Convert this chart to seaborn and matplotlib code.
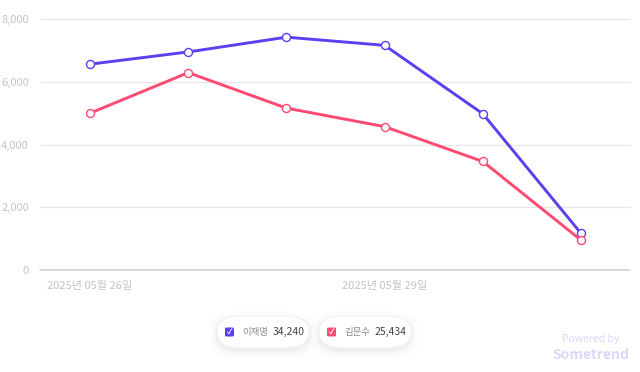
import pandas as pd
import seaborn as sns
import matplotlib.pyplot as plt
from matplotlib.patches import FancyBboxPatch

# data
dates = ["2025년 05월 26일", "2025년 05월 27일", "2025년 05월 28일",
         "2025년 05월 29일", "2025년 05월 30일", "2025년 05월 31일"]
lee = [6560, 6950, 7420, 7160, 4980, 1170]
kim = [5000, 6290, 5160, 4570, 3460, 954]
names = ["이재명", "김문수"]
totals = ["34,240", "25,434"]
colors = ["#5b3ff0", "#ff4b72"]
yticks = [0, 2000, 4000, 6000, 8000]

df = pd.DataFrame({
    "x": list(range(len(dates))) * 2,
    "value": lee + kim,
    "name": [names[0]] * len(lee) + [names[1]] * len(kim),
})

sns.set_style("white")
plt.rcParams["font.family"] = ["Noto Sans CJK KR", "DejaVu Sans"]

fig = plt.figure(figsize=(6.4, 3.72), dpi=100)
ax = fig.add_axes([0.0625, 0.274, 0.922, 0.675])

sns.lineplot(data=df, x="x", y="value", hue="name", palette=colors,
             marker="o", markersize=5.8, markerfacecolor="white",
             markeredgewidth=1.0, linewidth=2.1, legend=False, ax=ax)
# marker edges in line colour
for line, c in zip(ax.get_lines(), colors):
    line.set_markeredgecolor(c)

ax.set_xlim(-0.51, 5.5)
ax.set_ylim(0, 8000)
ax.set_yticks(yticks)
ax.set_yticklabels([f"{v:,}" for v in yticks])
ax.set_xticks([0, 3])
ax.set_xticklabels([dates[0], dates[3]])
ax.tick_params(axis="both", length=0, labelsize=8, labelcolor="#c4c4c4")
ax.tick_params(axis="x", pad=8)
ax.tick_params(axis="y", pad=8)
ax.set_xlabel("")
ax.set_ylabel("")
for y in yticks[1:]:
    ax.axhline(y, color="#e6e6e6", linewidth=0.9, zorder=0, clip_on=False)
ax.axhline(0, color="#cccccc", linewidth=1.1, zorder=0, clip_on=False)
for s in ax.spines.values():
    s.set_visible(False)

# legend pills
W, H = 640, 372
pills = [(217, 316, 92, 32), (319, 316, 92, 32)]
for (px, py, pw, ph), name, tot, c in zip(pills, names, totals, colors):
    for k, a in [(8, 0.008), (5, 0.012), (3, 0.018), (1, 0.025)]:
        sh = FancyBboxPatch(((px - k) / W, 1 - (py + ph + k + 3) / H),
                            (pw + 2 * k) / W, (ph + 2 * k) / H,
                            boxstyle="round,pad=0,rounding_size=0.045",
                            transform=fig.transFigure, facecolor="#000000",
                            alpha=a, edgecolor="none")
        fig.add_artist(sh)
    pill = FancyBboxPatch((px / W, 1 - (py + ph) / H), pw / W, ph / H,
                          boxstyle="round,pad=0,rounding_size=0.04",
                          transform=fig.transFigure, facecolor="white",
                          edgecolor="#f0f0f0", linewidth=0.8)
    fig.add_artist(pill)
    cy = 1 - (py + ph / 2) / H
    box = FancyBboxPatch(((px + 8) / W, cy - 4.5 / H), 9 / W, 9 / H,
                         boxstyle="round,pad=0,rounding_size=0.003",
                         transform=fig.transFigure, facecolor=c, edgecolor="none")
    fig.add_artist(box)
    fig.text((px + 12.5) / W, cy, "✓", color="white", fontsize=5.5,
             ha="center", va="center", fontweight="bold")
    fig.text((px + 25) / W, cy, name, color="#8a8a8a", fontsize=6.8, va="center")
    fig.text((px + 56) / W, cy, tot, color="#444444", fontsize=7.5,
             ha="left", va="center")

fig.text(591 / W, 1 - 339 / H, "Powered by", color="#ddd6fb", fontsize=7.5,
         ha="center", va="center")
fig.text(591 / W, 1 - 355 / H, "Sometrend", color="#ddd6fb", fontsize=10,
         ha="center", va="center", fontweight="bold")

fig.savefig("out.png", dpi=100)
